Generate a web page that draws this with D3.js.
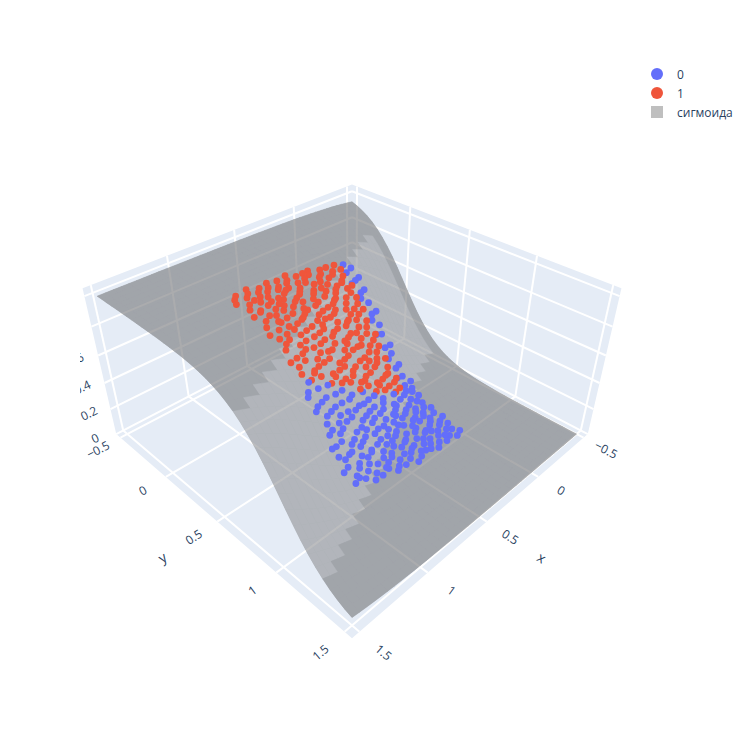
<!DOCTYPE html>
<html>
<head>
<meta charset="utf-8">
<script src="https://cdn.jsdelivr.net/npm/d3@7"></script>
<style>
  body { margin: 0; background: #fff; }
  text { font-family: "Open Sans", verdana, arial, sans-serif; fill: #2a3f5f; }
</style>
</head>
<body>
<script>
// axis ranges and ticks
const xRange = [-0.55, 1.55];
const yRange = [-0.55, 1.55];
const zRange = [0, 1.05];
const xTicks = [-0.5, 0, 0.5, 1, 1.5];
const yTicks = [-0.5, 0, 0.5, 1, 1.5];
const zTicks = [0, 0.2, 0.4, 0.6, 0.8, 1];

// fitted logistic model: p = sigmoid(wx*x + wy*y + b)
const sigmoidWeights = [2.86, -5.71, 1.53];
const surfaceGrid = d3.ticks(-0.5, 1.5, 40);

const legendNames = ["0", "1", "сигмоида"];
const classColors = ["#636efa", "#EF553B"];

// class 1 points (x, y)
const class1 = [
  [0.13,0.03],[0.16,0.00],[0.21,0.04],[0.24,0.01],[0.30,0.02],[0.32,0.05],[0.39,0.01],[0.41,0.04],[0.44,0.02],[0.50,0.03],[0.56,0.00],[0.58,0.04],[0.64,0.02],[0.71,0.01],[0.73,0.05],[0.78,0.03],[0.85,0.00],[0.87,0.04],[0.94,0.02],[0.97,0.05],
  [0.15,0.07],[0.19,0.10],[0.23,0.06],[0.28,0.08],[0.35,0.07],[0.37,0.10],[0.46,0.06],[0.48,0.09],[0.53,0.08],[0.60,0.06],[0.62,0.10],[0.67,0.07],[0.69,0.09],[0.76,0.08],[0.81,0.06],[0.83,0.10],[0.90,0.07],[0.99,0.09],
  [0.12,0.12],[0.18,0.14],[0.20,0.11],[0.26,0.13],[0.29,0.15],[0.33,0.12],[0.40,0.14],[0.43,0.11],[0.47,0.15],[0.55,0.12],[0.57,0.14],[0.65,0.11],[0.68,0.13],[0.74,0.15],[0.79,0.12],[0.86,0.14],[0.88,0.11],[0.93,0.13],
  [0.14,0.18],[0.17,0.16],[0.24,0.19],[0.31,0.17],[0.34,0.20],[0.38,0.16],[0.42,0.19],[0.49,0.17],[0.52,0.20],[0.59,0.16],[0.63,0.18],[0.66,0.20],[0.72,0.17],[0.77,0.19],[0.80,0.16],[0.84,0.18],[0.91,0.20],[0.96,0.17],
  [0.13,0.23],[0.16,0.21],[0.22,0.24],[0.27,0.22],[0.30,0.25],[0.36,0.21],[0.39,0.23],[0.45,0.25],[0.50,0.22],[0.54,0.24],[0.61,0.21],[0.64,0.25],[0.70,0.23],[0.75,0.21],[0.78,0.24],[0.82,0.22],[0.89,0.25],[0.92,0.21],[0.98,0.23],
  [0.15,0.28],[0.20,0.26],[0.25,0.29],[0.28,0.27],[0.33,0.30],[0.40,0.26],[0.43,0.28],[0.48,0.30],[0.51,0.27],[0.56,0.29],[0.62,0.26],[0.66,0.28],[0.69,0.30],[0.74,0.27],[0.80,0.29],[0.85,0.26],[0.87,0.30],[0.94,0.28],
  [0.12,0.33],[0.18,0.31],[0.21,0.34],[0.26,0.32],[0.31,0.35],[0.35,0.31],[0.38,0.33],[0.44,0.32],[0.47,0.35],[0.53,0.31],[0.58,0.34],[0.60,0.32],[0.67,0.35],[0.71,0.31],[0.76,0.33],[0.83,0.34],[0.86,0.31],[0.91,0.35],[0.97,0.32],
  [0.14,0.38],[0.17,0.36],[0.23,0.39],[0.29,0.37],[0.32,0.40],[0.37,0.36],[0.41,0.38],[0.46,0.40],[0.52,0.37],[0.55,0.39],[0.59,0.36],[0.64,0.38],[0.70,0.40],[0.73,0.37],[0.79,0.39],[0.81,0.36],[0.88,0.38],[0.95,0.40],[0.99,0.37],
  [0.13,0.43],[0.19,0.41],[0.22,0.44],[0.27,0.42],[0.34,0.45],[0.36,0.41],[0.42,0.43],[0.45,0.41],[0.50,0.44],[0.56,0.42],[0.61,0.45],[0.63,0.41],[0.68,0.43],[0.75,0.45],[0.78,0.42],[0.84,0.44],[0.89,0.41],[0.93,0.43],
  [0.15,0.47],[0.18,0.50],[0.24,0.46],[0.28,0.48],[0.31,0.46],[0.37,0.49],[0.40,0.47],[0.47,0.50],[0.49,0.46],[0.54,0.48],[0.60,0.50],[0.65,0.46],[0.67,0.49],[0.72,0.47],[0.77,0.50],[0.82,0.46],[0.86,0.48],[0.92,0.50],[0.96,0.46],
  [0.12,0.52],[0.16,0.54],[0.21,0.51],[0.26,0.53],[0.33,0.55],[0.35,0.51],[0.41,0.53],[0.44,0.55],[0.51,0.52],[0.53,0.54],[0.57,0.51],[0.63,0.53],[0.70,0.55],[0.73,0.51],[0.79,0.53],[0.84,0.55],[0.87,0.51],[0.94,0.54],[0.98,0.52],
  [0.14,0.57],[0.20,0.59],[0.23,0.56],[0.29,0.58],[0.32,0.56],[0.38,0.59],[0.43,0.57],[0.48,0.56],[0.52,0.59],[0.58,0.57],[0.61,0.56],[0.66,0.58],[0.69,0.56],[0.75,0.59],[0.81,0.57],[0.85,0.56],[0.90,0.59],[0.95,0.57]
];

// class 0 points (x, y)
const class0 = [
  [0.03,0.02],[0.08,0.00],[0.10,0.05],[0.01,0.07],[0.06,0.09],[0.11,0.11],[0.02,0.13],[0.07,0.15],[0.04,0.19],[0.10,0.18],[0.00,0.22],[0.06,0.24],[0.09,0.27],[0.03,0.28],
  [0.05,0.32],[0.11,0.33],[0.01,0.36],[0.08,0.38],[0.04,0.40],[0.10,0.43],[0.02,0.45],[0.07,0.47],[0.05,0.51],[0.11,0.52],[0.00,0.54],[0.08,0.56],[0.03,0.58],[0.10,0.59],
  [0.02,0.63],[0.05,0.60],[0.11,0.64],[0.14,0.61],[0.20,0.63],[0.23,0.60],[0.28,0.65],[0.35,0.62],[0.37,0.64],[0.42,0.61],[0.49,0.63],[0.51,0.60],[0.55,0.65],[0.62,0.62],[0.66,0.64],[0.69,0.61],[0.76,0.63],[0.79,0.60],[0.85,0.65],[0.88,0.62],[0.93,0.60],[0.97,0.64],
  [0.04,0.68],[0.07,0.66],[0.13,0.70],[0.16,0.67],[0.21,0.69],[0.27,0.66],[0.30,0.68],[0.34,0.70],[0.40,0.67],[0.45,0.69],[0.47,0.66],[0.53,0.68],[0.58,0.70],[0.60,0.66],[0.65,0.68],[0.72,0.69],[0.74,0.66],[0.81,0.68],[0.86,0.70],[0.90,0.67],[0.95,0.69],[0.99,0.66],
  [0.01,0.73],[0.06,0.71],[0.10,0.74],[0.15,0.72],[0.19,0.75],[0.24,0.71],[0.29,0.73],[0.33,0.71],[0.38,0.74],[0.43,0.72],[0.48,0.75],[0.52,0.71],[0.56,0.73],[0.63,0.72],[0.67,0.75],[0.71,0.71],[0.77,0.73],[0.80,0.71],[0.84,0.74],[0.91,0.72],[0.94,0.75],[0.98,0.71],
  [0.03,0.77],[0.09,0.79],[0.12,0.76],[0.18,0.78],[0.22,0.76],[0.26,0.79],[0.32,0.77],[0.36,0.76],[0.41,0.79],[0.46,0.77],[0.50,0.80],[0.54,0.76],[0.59,0.78],[0.64,0.76],[0.68,0.79],[0.73,0.77],[0.78,0.80],[0.83,0.76],[0.87,0.78],[0.92,0.77],[0.96,0.79],
  [0.00,0.82],[0.05,0.84],[0.11,0.81],[0.14,0.83],[0.20,0.85],[0.25,0.81],[0.28,0.83],[0.35,0.82],[0.39,0.85],[0.44,0.81],[0.49,0.83],[0.55,0.84],[0.57,0.81],[0.62,0.83],[0.69,0.85],[0.72,0.81],[0.76,0.83],[0.82,0.82],[0.85,0.85],[0.89,0.81],[0.95,0.83],[0.99,0.84],
  [0.02,0.88],[0.08,0.86],[0.13,0.89],[0.17,0.87],[0.22,0.86],[0.27,0.89],[0.31,0.87],[0.37,0.90],[0.41,0.86],[0.46,0.88],[0.51,0.86],[0.56,0.89],[0.61,0.87],[0.64,0.90],[0.70,0.86],[0.75,0.88],[0.79,0.87],[0.84,0.90],[0.88,0.86],[0.93,0.88],[0.97,0.87],
  [0.04,0.93],[0.07,0.91],[0.12,0.94],[0.16,0.92],[0.23,0.91],[0.26,0.94],[0.30,0.92],[0.36,0.95],[0.40,0.91],[0.43,0.93],[0.48,0.92],[0.54,0.94],[0.58,0.91],[0.63,0.93],[0.67,0.95],[0.71,0.92],[0.77,0.91],[0.81,0.94],[0.86,0.92],[0.91,0.95],[0.94,0.91],[0.99,0.93],
  [0.01,0.97],[0.06,0.99],[0.10,0.96],[0.15,0.98],[0.20,0.96],[0.24,0.99],[0.29,0.97],[0.33,0.96],[0.39,0.98],[0.44,1.00],[0.47,0.96],[0.53,0.98],[0.58,0.97],[0.61,0.99],[0.66,0.96],[0.73,0.98],[0.76,0.96],[0.80,0.99],[0.86,0.97],[0.90,0.96],[0.95,0.98]
];

// scene / camera parameters
const width = 750, height = 750;
const centerX = 352, centerY = 366, focal = 770;
const eye = [1.25, 1.25, 1.25];
const bgColor = "#E5ECF6";
const surfaceDark = 117, surfaceLight = 145, surfaceOpacity = 0.6;

const xs = d3.scaleLinear().domain(xRange).range([-0.5, 0.5]);
const ys = d3.scaleLinear().domain(yRange).range([-0.5, 0.5]);
const zs = d3.scaleLinear().domain(zRange).range([-0.25, 0.25]);

function dot(a, b) { return a[0]*b[0] + a[1]*b[1] + a[2]*b[2]; }
function cross(a, b) { return [a[1]*b[2]-a[2]*b[1], a[2]*b[0]-a[0]*b[2], a[0]*b[1]-a[1]*b[0]]; }
function norm(a) { const l = Math.hypot(a[0], a[1], a[2]); return [a[0]/l, a[1]/l, a[2]/l]; }

const fwd = norm(eye.map(v => -v));
const right = norm(cross(fwd, [0, 0, 1]));
const up = cross(right, fwd);

// box coordinates -> screen
function project(X, Y, Z) {
  const d = [X - eye[0], Y - eye[1], Z - eye[2]];
  const depth = dot(d, fwd);
  return [centerX + focal * dot(d, right) / depth, centerY - focal * dot(d, up) / depth, depth];
}
function proj(x, y, z) { return project(xs(x), ys(y), zs(z)); }

function sigmoid(x, y) {
  const t = sigmoidWeights[0] * x + sigmoidWeights[1] * y + sigmoidWeights[2];
  return 1 / (1 + Math.exp(-t));
}

const svg = d3.select("body").append("svg")
  .attr("width", width)
  .attr("height", height);

svg.append("defs").append("clipPath").attr("id", "sceneClip")
  .append("rect").attr("x", 80).attr("y", 60).attr("width", 545).attr("height", 640);

const scene = svg.append("g").attr("clip-path", "url(#sceneClip)");

const [x0, x1] = xRange, [y0, y1] = yRange, [z0, z1] = zRange;
const line = d3.line();

// back walls and floor
const walls = [
  [[x0,y0,z0],[x1,y0,z0],[x1,y1,z0],[x0,y1,z0]],
  [[x0,y0,z0],[x1,y0,z0],[x1,y0,z1],[x0,y0,z1]],
  [[x0,y0,z0],[x0,y1,z0],[x0,y1,z1],[x0,y0,z1]]
];
scene.selectAll(".wall").data(walls).enter().append("path")
  .attr("class", "wall")
  .attr("d", function(w) { return line(w.map(p => proj(p[0], p[1], p[2]))) + "Z"; })
  .attr("fill", bgColor);

// grid lines
const gridLines = [];
xTicks.forEach(t => { gridLines.push([[t,y0,z0],[t,y1,z0]]); gridLines.push([[t,y0,z0],[t,y0,z1]]); });
yTicks.forEach(t => { gridLines.push([[x0,t,z0],[x1,t,z0]]); gridLines.push([[x0,t,z0],[x0,t,z1]]); });
zTicks.forEach(t => { gridLines.push([[x0,y0,t],[x1,y0,t]]); gridLines.push([[x0,y0,t],[x0,y1,t]]); });
scene.selectAll(".grid").data(gridLines).enter().append("path")
  .attr("class", "grid")
  .attr("d", function(g) { return line(g.map(p => proj(p[0], p[1], p[2]))); })
  .attr("stroke", "white")
  .attr("stroke-width", 2)
  .attr("fill", "none");

// tick labels, oriented along the floor / wall direction
function angleAlong(p, q) { return Math.atan2(q[1] - p[1], q[0] - p[0]) * 180 / Math.PI; }
function fmt(t) { return (t < 0 ? "\u2212" : "") + Math.abs(t); }

const labelOut = 0.575;
const xLabels = xTicks.map(function(t) {
  const p = project(xs(t), labelOut, -0.25), q = project(xs(t), labelOut + 0.05, -0.25);
  return { text: fmt(t), x: p[0], y: p[1], a: angleAlong(p, q), size: 12 };
});
const yLabels = yTicks.map(function(t) {
  const p = project(labelOut, ys(t), -0.25), q = project(labelOut - 0.05, ys(t), -0.25);
  return { text: fmt(t), x: p[0], y: p[1], a: angleAlong(p, q), size: 12 };
});
const zLabels = zTicks.map(function(t) {
  const p = project(0.545, -0.545, zs(t)), q = project(0.495, -0.545, zs(t));
  return { text: fmt(t), x: p[0], y: p[1] + 4, a: angleAlong(p, q), size: 12 };
});
const titles = [];
{
  const p = project(0, 0.67, -0.25), q = project(0, 0.72, -0.25);
  titles.push({ text: "x", x: p[0], y: p[1], a: angleAlong(p, q), size: 14 });
  const r = project(0.67, 0, -0.25), s = project(0.62, 0, -0.25);
  titles.push({ text: "y", x: r[0], y: r[1], a: angleAlong(r, s), size: 14 });
}
scene.selectAll(".tick").data(xLabels.concat(yLabels, zLabels, titles)).enter().append("text")
  .attr("class", "tick")
  .attr("transform", function(d) { return "translate(" + d.x + "," + d.y + ") rotate(" + d.a + ")"; })
  .attr("text-anchor", "middle")
  .attr("dominant-baseline", "central")
  .attr("font-size", function(d) { return d.size; })
  .text(function(d) { return d.text; });

// sigmoid surface: cells in the steep band are drawn lighter
const n = surfaceGrid.length;
const cells = [];
for (let j = 0; j < n - 1; j++) {
  for (let i = 0; i < n - 1; i++) {
    const pts = [[i, j], [i + 1, j], [i + 1, j + 1], [i, j + 1]].map(function(c) {
      const x = surfaceGrid[c[0]], y = surfaceGrid[c[1]];
      return proj(x, y, sigmoid(x, y));
    });
    const xc = (surfaceGrid[i] + surfaceGrid[i + 1]) / 2;
    const pc = sigmoid(xc, (surfaceGrid[j] + surfaceGrid[j + 1]) / 2);
    const steep = pc > 0.15 && pc < 0.85 && xc > -0.4;
    cells.push({ pts: pts, depth: d3.mean(pts, p => p[2]), level: steep ? surfaceLight : surfaceDark });
  }
}
cells.sort((a, b) => b.depth - a.depth);

// outline of the surface (under the cells, hides seams)
const outline = [];
surfaceGrid.forEach(x => outline.push([x, surfaceGrid[0]]));
surfaceGrid.forEach(y => outline.push([surfaceGrid[n - 1], y]));
surfaceGrid.slice().reverse().forEach(x => outline.push([x, surfaceGrid[n - 1]]));
surfaceGrid.slice().reverse().forEach(y => outline.push([surfaceGrid[0], y]));

const surface = scene.append("g").attr("opacity", surfaceOpacity);
surface.append("path")
  .attr("d", line(outline.map(p => proj(p[0], p[1], sigmoid(p[0], p[1])).slice(0, 2))) + "Z")
  .attr("fill", d3.rgb(surfaceDark, surfaceDark + 1, surfaceDark + 4));
surface.selectAll(".cell").data(cells).enter().append("path")
  .attr("class", "cell")
  .attr("d", function(c) { return line(c.pts.map(p => [p[0], p[1]])) + "Z"; })
  .attr("fill", c => d3.rgb(c.level, c.level + 1, c.level + 4))
  .attr("stroke", c => d3.rgb(c.level, c.level + 1, c.level + 4))
  .attr("stroke-width", 0.5);

// scatter points lying on the surface
const points = [];
class0.forEach(p => points.push({ x: p[0], y: p[1], cls: 0 }));
class1.forEach(p => points.push({ x: p[0], y: p[1], cls: 1 }));
points.forEach(function(p) {
  const s = proj(p.x, p.y, sigmoid(p.x, p.y));
  p.sx = s[0]; p.sy = s[1]; p.depth = s[2];
});
points.sort((a, b) => b.depth - a.depth);

scene.selectAll(".pt").data(points).enter().append("circle")
  .attr("class", "pt")
  .attr("cx", d => d.sx)
  .attr("cy", d => d.sy)
  .attr("r", 3.4)
  .attr("fill", d => classColors[d.cls]);

// legend
const legend = svg.append("g").attr("transform", "translate(651,74)");
legendNames.forEach(function(name, i) {
  const g = legend.append("g").attr("transform", "translate(0," + (i * 19) + ")");
  if (i < 2) {
    g.append("circle").attr("cx", 6).attr("cy", 0).attr("r", 6).attr("fill", classColors[i]);
  } else {
    g.append("rect").attr("x", 0).attr("y", -6).attr("width", 12).attr("height", 12)
      .attr("fill", "gray").attr("opacity", 0.5);
  }
  g.append("text").attr("x", 26).attr("y", 0)
    .attr("dominant-baseline", "central")
    .attr("font-size", 12)
    .text(name);
});
</script>
</body>
</html>
